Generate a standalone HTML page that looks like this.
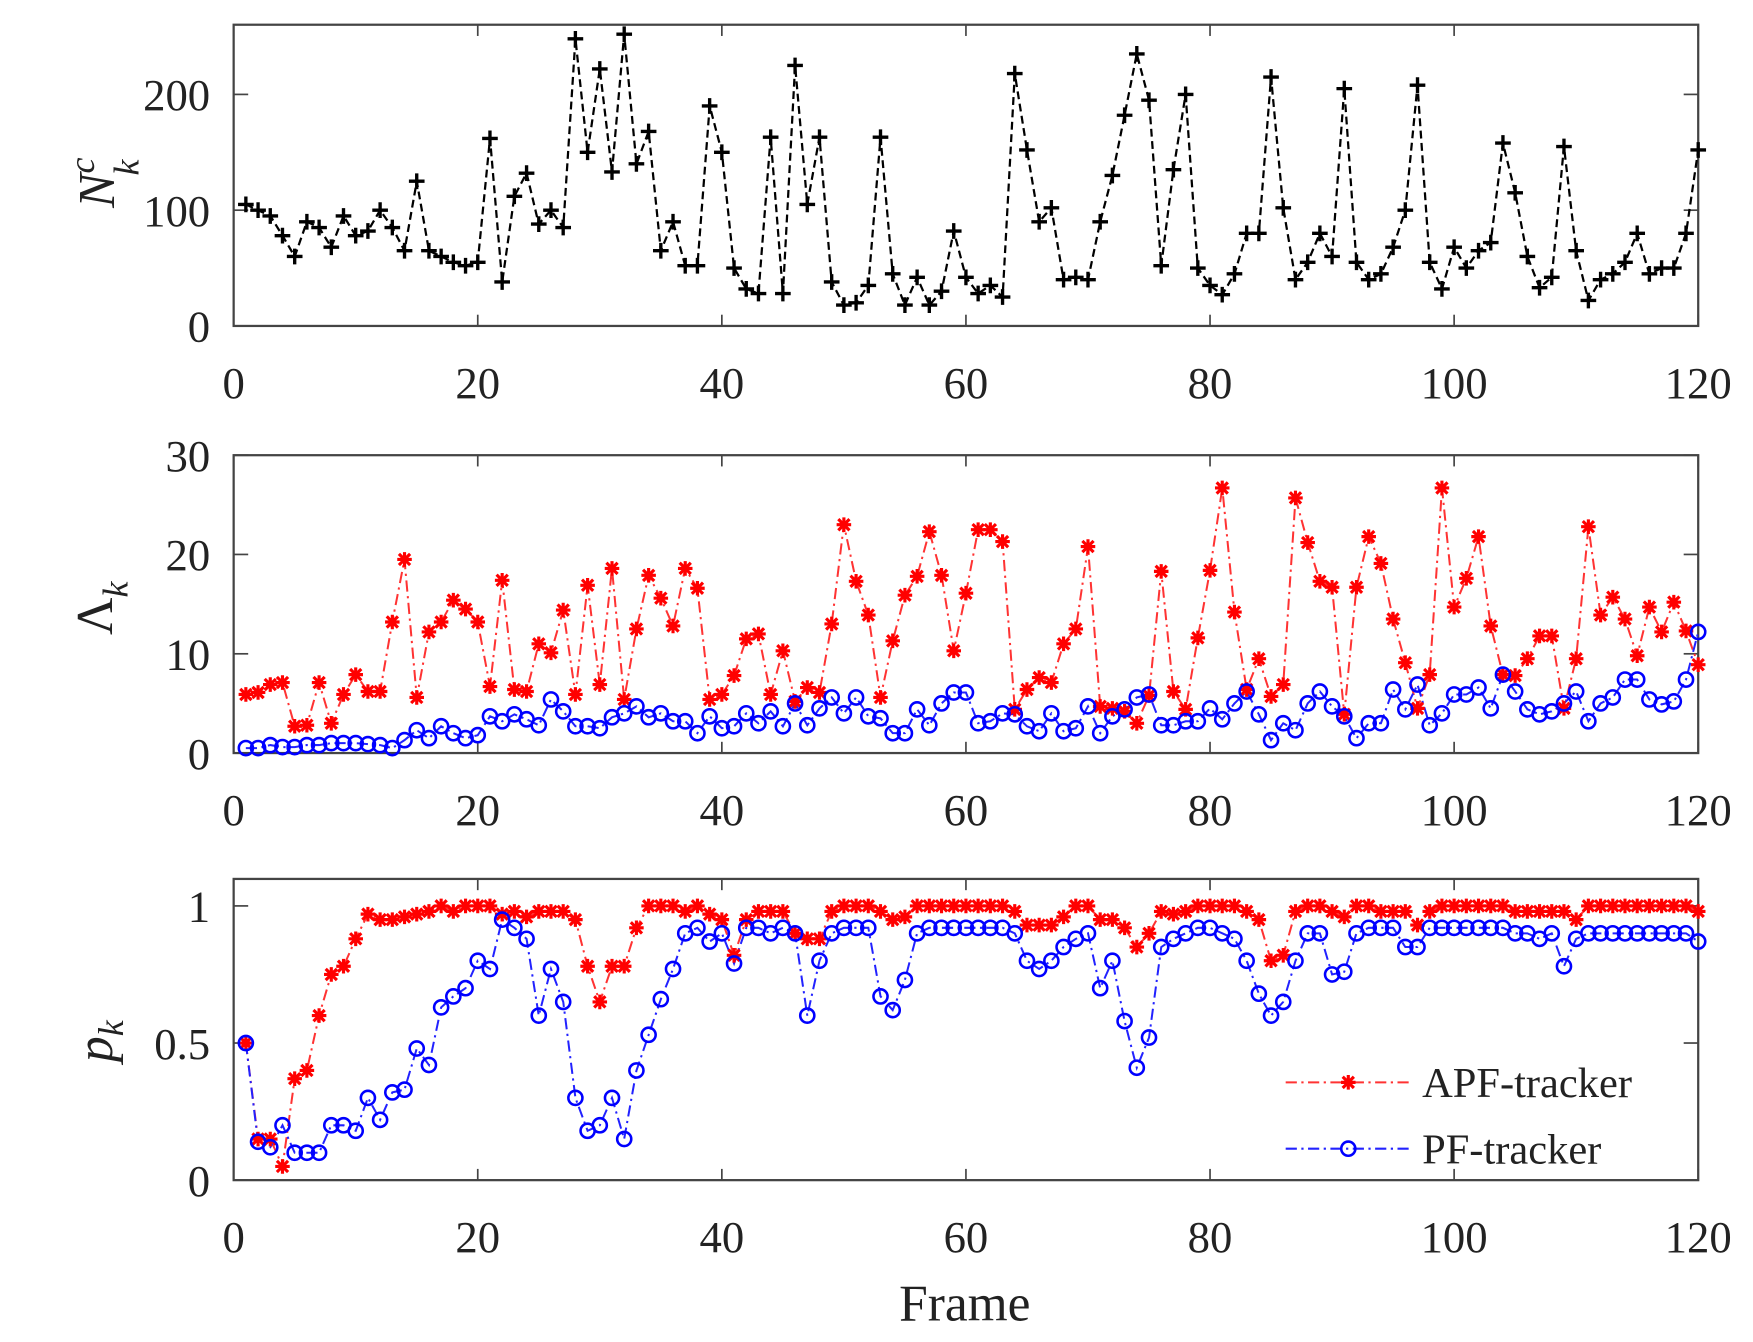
<!DOCTYPE html>
<html><head><meta charset="utf-8"><style>html,body{margin:0;padding:0;background:#fff;}svg{display:block}text{font-family:"Liberation Serif","Times New Roman",Times,"DejaVu Serif",serif !important;}</style></head>
<body>
<svg id="s" width="1753" height="1342" viewBox="0 0 1568 1194" preserveAspectRatio="none" xmlns="http://www.w3.org/2000/svg">
<g id="g"></g>
</svg>
<script>
const X=f=>209+f*(1310/120);
const Ns=[105,100,95,78,60,90,85,68,95,78,82,100,85,65,125,65,60,55,52,55,162,38,112,132,88,100,85,248,150,222,133,252,140,168,65,90,52,52,190,150,50,32,28,163,28,225,105,163,38,18,20,35,163,45,18,42,18,30,82,42,28,35,25,218,152,90,102,40,42,40,90,130,182,235,195,52,135,200,50,35,27,45,80,80,215,102,40,55,80,60,205,55,40,45,68,100,208,55,32,68,50,65,72,158,115,60,33,42,155,65,22,40,45,55,80,45,50,50,80,152];
const A=[5.9,6.1,6.9,7.1,2.7,2.8,7.1,3.0,5.9,7.9,6.2,6.2,13.2,19.5,5.6,12.2,13.2,15.4,14.5,13.2,6.7,17.4,6.4,6.2,11,10.1,14.4,5.9,16.9,6.9,18.6,5.4,12.5,17.9,15.6,12.8,18.6,16.6,5.4,5.9,
7.8,11.5,12,5.9,10.3,5.2,6.6,6.1,13,23,17.3,13.9,5.6,11.3,15.9,17.8,22.3,17.9,10.3,16.1,22.5,22.5,21.3,4.4,6.4,7.6,7.1,11,12.5,20.8,4.7,4.5,4.2,3,5.8,18.3,6.2,4.4,11.6,18.4,26.7,14.2,6.4,9.5,5.7,6.9,25.7,21.2,17.3,16.7,3.9,16.7,21.8,19.1,13.5,9.1,4.5,7.9,26.7,14.7,17.6,21.8,12.8,7.9,7.8,9.5,11.8,11.8,4.5,9.5,22.8,13.9,15.7,13.5,9.8,14.7,12.2,15.2,12.3,8.9];
const B=[0.5,0.5,0.8,0.6,0.6,0.8,0.8,1,1,1,0.9,0.8,0.5,1.3,2.3,1.5,2.7,2,1.5,1.8,3.7,3.2,3.9,3.4,2.8,5.4,4.2,2.7,2.7,2.5,3.6,4,4.7,3.6,4,3.2,3.2,2,3.7,2.5,
2.7,4,3,4.2,2.7,5,2.8,4.5,5.6,4,5.6,3.7,3.5,2,2,4.4,2.8,5,6.1,6.1,3,3.2,4,3.9,2.7,2.2,4,2.2,2.5,4.7,2,3.7,4.4,5.6,5.9,2.8,2.8,3.2,3.2,4.5,3.4,5,6.2,3.9,1.3,3,2.3,5,6.2,4.7,3.7,1.5,3,3,6.4,4.4,6.9,2.8,4,5.9,5.9,6.6,4.5,7.9,6.2,4.4,3.9,4.2,5,6.2,3.2,5,5.6,7.4,7.4,5.4,4.9,5.2,7.4,12.2];
const Q=[0.5,0.14,0.12,0.2,0.1,0.1,0.1,0.2,0.2,0.18,0.3,0.22,0.32,0.33,0.48,0.42,0.63,0.67,0.7,0.8,0.77,0.95,0.92,0.88,0.6,0.77,0.65,0.3,0.18,0.2,0.3,0.15,0.4,0.53,0.66,0.77,0.9,0.92,0.87,0.9,0.79,0.92,0.92,0.9,0.92,0.9,0.6,0.8,0.9,0.92,0.92,0.92,0.67,0.62,0.73,0.9,0.92,0.92,0.92,0.92,0.92,0.92,0.92,0.9,0.8,0.77,0.8,0.85,0.88,0.9,0.7,0.8,0.58,0.41,0.52,0.85,0.88,0.9,0.92,0.92,0.9,0.88,0.8,0.68,0.6,0.65,0.8,0.9,0.9,0.75,0.76,0.9,0.92,0.92,0.92,0.85,0.85,0.92,0.92,0.92,0.92,0.92,0.92,0.92,0.9,0.9,0.88,0.9,0.78,0.88,0.9,0.9,0.9,0.9,0.9,0.9,0.9,0.9,0.9,0.87];
const Pa=[0.5,0.15,0.15,0.05,0.37,0.4,0.6,0.75,0.78,0.88,0.97,0.95,0.95,0.96,0.97,0.98,1,0.98,1,1,1,0.97,0.98,0.96,0.98,0.98,0.98,0.95,0.78,0.65,0.78,0.78,0.92,1,1,1,0.98,1,0.97,0.95,0.82,0.95,0.98,0.98,0.98,0.9,0.88,0.88,0.98,1,1,1,0.98,0.95,0.96,1,1,1,1,1,1,1,1,0.98,0.93,0.93,0.93,0.96,1,1,0.95,0.95,0.92,0.85,0.9,0.98,0.97,0.98,1,1,1,1,0.98,0.95,0.8,0.82,0.98,1,1,0.98,0.96,1,1,0.98,0.98,0.98,0.93,0.98,1,1,1,1,1,1,0.98,0.98,0.98,0.98,0.98,0.95,1,1,1,1,1,1,1,1,1,0.98];
const FF='font-family="Liberation Serif, Times New Roman, serif"';
let h='';
function axis(y0,y1,ticks){
  h+=`<rect x="209" y="${y0}" width="1310" height="${y1-y0}" fill="none" stroke="#444" stroke-width="2"/>`;
  for(let v=0;v<=120;v+=20){const x=X(v);
    h+=`<line x1="${x}" y1="${y1}" x2="${x}" y2="${y1-10}" stroke="#444" stroke-width="1.5"/><line x1="${x}" y1="${y0}" x2="${x}" y2="${y0+10}" stroke="#444" stroke-width="1.5"/>`;
    h+=`<text ${FF} x="${x}" y="${y1+64}" font-size="40" text-anchor="middle" fill="#222">${v}</text>`;}
  for(const [y,l] of ticks){h+=`<line x1="209" y1="${y}" x2="222" y2="${y}" stroke="#444" stroke-width="1.5"/><line x1="1519" y1="${y}" x2="1506" y2="${y}" stroke="#444" stroke-width="1.5"/>`;
    h+=`<text ${FF} x="188" y="${y+14}" font-size="40" text-anchor="end" fill="#222">${l}</text>`;}
}
axis(22,290,[[290,'0'],[187,'100'],[84,'200']]);
axis(405,670,[[670,'0'],[581.7,'10'],[493.3,'20'],[405,'30']]);
axis(782,1050,[[1050,'0'],[928,'0.5'],[806,'1']]);
function path(vals,fy,col,dash,w){let d='';vals.forEach((v,i)=>{d+=(i?'L':'M')+X(i+1).toFixed(1)+' '+fy(v).toFixed(1)});h+=`<path d="${d}" fill="none" stroke="${col}" stroke-width="${w}" stroke-dasharray="${dash}"/>`;}
const fT=v=>290-v*1.03,fM=v=>670-v*8.833,fB=v=>1050-v*244;
path(Ns,fT,'#000','7,4',2);
Ns.forEach((v,i)=>{const x=X(i+1),y=fT(v);h+=`<path d="M${x-7} ${y}h14M${x} ${y-7}v14" stroke="#000" stroke-width="3"/>`});
function star(x,y){h+=`<path d="M${x-6.5} ${y}h13M${x} ${y-6.5}v13M${x-5} ${y-5}l10 10M${x-5} ${y+5}l10 -10" stroke="#f00" stroke-width="2.8"/>`}
function circ(x,y){h+=`<circle cx="${x}" cy="${y}" r="6.3" fill="none" stroke="#00f" stroke-width="2.3"/>`}
path(A,fM,'#f33','10,4,2,4',1.8);path(B,fM,'#22f','10,4,2,4',1.8);
A.forEach((v,i)=>star(X(i+1),fM(v)));B.forEach((v,i)=>circ(X(i+1),fM(v)));
path(Pa,fB,'#f33','10,4,2,4',1.8);path(Q,fB,'#22f','10,4,2,4',1.8);
Pa.forEach((v,i)=>star(X(i+1),fB(v)));Q.forEach((v,i)=>circ(X(i+1),fB(v)));
h+=`<path d="M1150 963H1262" stroke="#f33" stroke-width="1.8" stroke-dasharray="10,4,2,4"/>`;star(1206,963);
h+=`<text ${FF} x="1272" y="976" font-size="38" fill="#222">APF-tracker</text>`;
h+=`<path d="M1150 1022H1262" stroke="#22f" stroke-width="1.8" stroke-dasharray="10,4,2,4"/>`;circ(1206,1022);
h+=`<text ${FF} x="1272" y="1035" font-size="38" fill="#222">PF-tracker</text>`;
h+=`<text ${FF} transform="translate(102,185) rotate(-90)" font-size="46" font-style="italic" fill="#222">N<tspan dy="-18" font-size="32">c</tspan><tspan dx="-16" dy="40" font-size="32">k</tspan></text>`;
h+=`<text ${FF} transform="translate(100,565) rotate(-90)" font-size="46" fill="#222">Λ<tspan dy="14" font-size="32" font-style="italic">k</tspan></text>`;
h+=`<text ${FF} transform="translate(100,945) rotate(-90)" font-size="46" font-style="italic" fill="#222">p<tspan dy="10" font-size="32">k</tspan></text>`;
h+=`<text ${FF} x="863" y="1175" font-size="46" text-anchor="middle" fill="#222">Frame</text>`;
document.getElementById('g').innerHTML=h;
</script>
</body></html>
